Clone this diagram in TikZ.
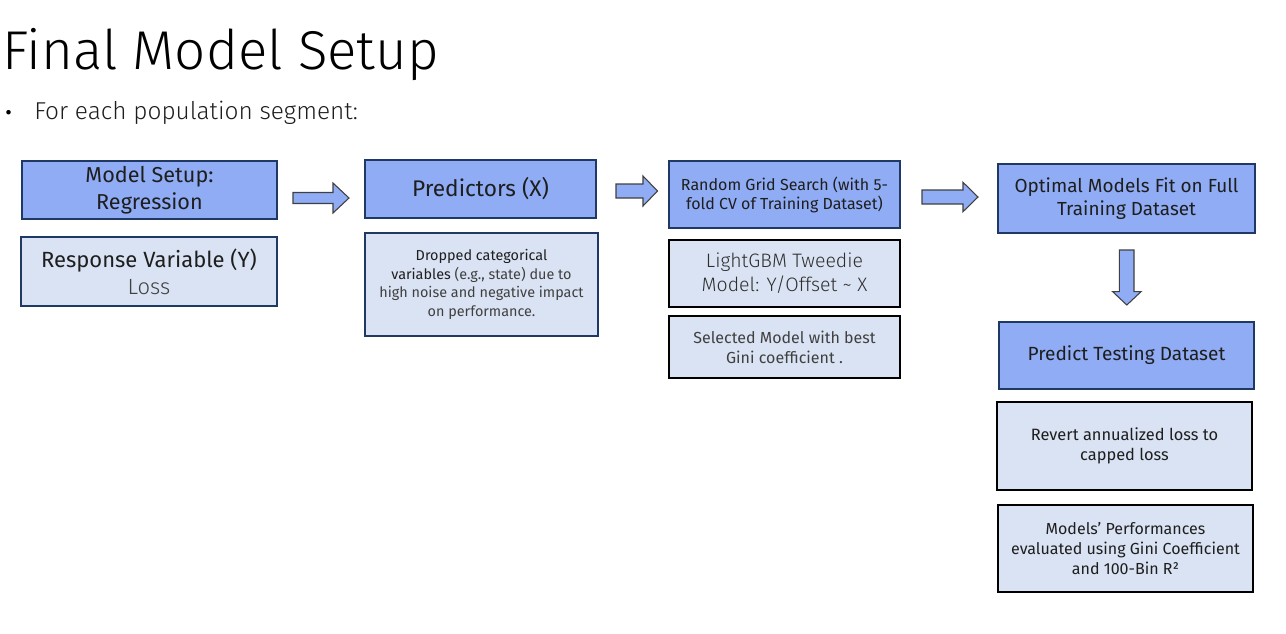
\documentclass[tikz,border=0pt]{standalone}
\usepackage{fontspec}
\setmainfont{Fira Sans}
\newfontfamily\lightfont{Fira Sans Light}
\definecolor{dfill}{HTML}{8FACF4}
\definecolor{lfill}{HTML}{DAE3F3}
\definecolor{navy}{HTML}{1F3864}
\definecolor{txt}{HTML}{1E1E1E}
\definecolor{gtxt}{HTML}{404040}
\definecolor{ltxt}{HTML}{2E2E2E}
\newcommand\bx[7]{\node[#6, minimum width={(#4-#2)*0.75pt}, minimum height={(#5-#3)*0.75pt}] (#1) at ({(#2+#4)/2},{(#3+#5)/2}) {#7};}
% horizontal block arrow: name, x1, x2, headstart, cy, half shaft, half head
\newcommand\harrow[7]{\coordinate (#1) at ({(#2+#3)/2},#5);
  \draw[barrow] (#2,#5-#6) -- (#4,#5-#6) -- (#4,#5-#7) -- (#3,#5) -- (#4,#5+#7) -- (#4,#5+#6) -- (#2,#5+#6) -- cycle;}
\tikzset{
  base/.style={rectangle, inner sep=0pt, align=center, text=txt, line width=0.9pt},
  dbox/.style={base, fill=dfill, draw=navy},
  lbox/.style={base, fill=lfill, draw=navy},
  kbox/.style={base, fill=lfill, draw=black},
  barrow/.style={fill=dfill, draw=black!75, line width=0.8pt, line join=miter},
}
\begin{document}
\begin{tikzpicture}[x=0.75pt,y=-0.75pt]
\useasboundingbox (0,0) rectangle (1286,633);
\node[anchor=base west, inner sep=0pt, font=\lightfont\fontsize{41}{50}\selectfont, text=black] (title) at (2,69) {Final Model Setup};
\node[anchor=base west, inner sep=0pt, font=\fontsize{15}{20}\selectfont] (bul) at (5,119) {•};
\node[anchor=base west, inner sep=0pt, font=\lightfont\fontsize{18.3}{22}\selectfont, text=txt] (sub) at (34,119) {For each population segment:};

\bx{ms}{22}{161}{277}{219}{dbox, font=\fontsize{16.2}{20}\selectfont}{Model Setup:\\Regression}
\bx{rv}{21}{237}{277}{306}{lbox, font=\fontsize{16.5}{20}\selectfont}{Response Variable (Y)\\\textcolor{gtxt}{\lightfont Loss}}
\bx{pr}{365}{160}{596}{218}{dbox, font=\fontsize{17}{20}\selectfont}{Predictors (X)}
\bx{dr}{365}{233}{598}{336}{lbox, font=\fontsize{10.8}{14}\selectfont}{Dropped categorical\\variables \textcolor{gtxt}{(e.g., state) due to}\\\textcolor{gtxt}{high noise and negative impact}\\\textcolor{gtxt}{on performance.}}
\bx{rg}{669}{161}{900}{228}{dbox, font=\fontsize{12}{14.3}\selectfont}{Random Grid Search (with 5-\\fold CV of Training Dataset)}
\bx{lg}{669}{240}{900}{307}{kbox, font=\lightfont\fontsize{14.6}{18}\selectfont}{\textcolor{ltxt}{LightGBM Tweedie}\\\textcolor{ltxt}{Model: Y/Offset \textasciitilde{} X}}
\bx{sm}{669}{316}{900}{378}{kbox, font=\fontsize{12}{15}\selectfont}{\textcolor{gtxt}{Selected Model with best}\\\textcolor{gtxt}{Gini coefficient .}}
\bx{of}{998}{164}{1255}{233}{dbox, font=\fontsize{14.2}{17.3}\selectfont}{Optimal Models Fit on Full\\Training Dataset}
\bx{pt}{999}{322}{1254}{389}{dbox, font=\fontsize{14.3}{17}\selectfont}{Predict Testing Dataset}
\bx{ra}{997}{402}{1252}{490}{kbox, font=\fontsize{12.3}{15}\selectfont}{Revert annualized loss to\\capped loss}
\bx{mp}{998}{505}{1253}{592}{kbox, font=\fontsize{12}{15}\selectfont}{Models' Performances\\evaluated using Gini Coefficient\\and 100-Bin R²}

\harrow{a1}{293}{349}{333}{198}{5.5}{15}
\harrow{a2}{616}{657.5}{643}{191}{7}{15}
\harrow{a3}{922}{978}{963}{197}{7}{14.7}
\coordinate (a4) at (1126.8,277.5);
\draw[barrow] (1119.3,250) -- (1134,250) -- (1134,291.7) -- (1141,291.7) -- (1126.8,305) -- (1112.7,291.7) -- (1119.3,291.7) -- cycle;
\end{tikzpicture}
\end{document}
